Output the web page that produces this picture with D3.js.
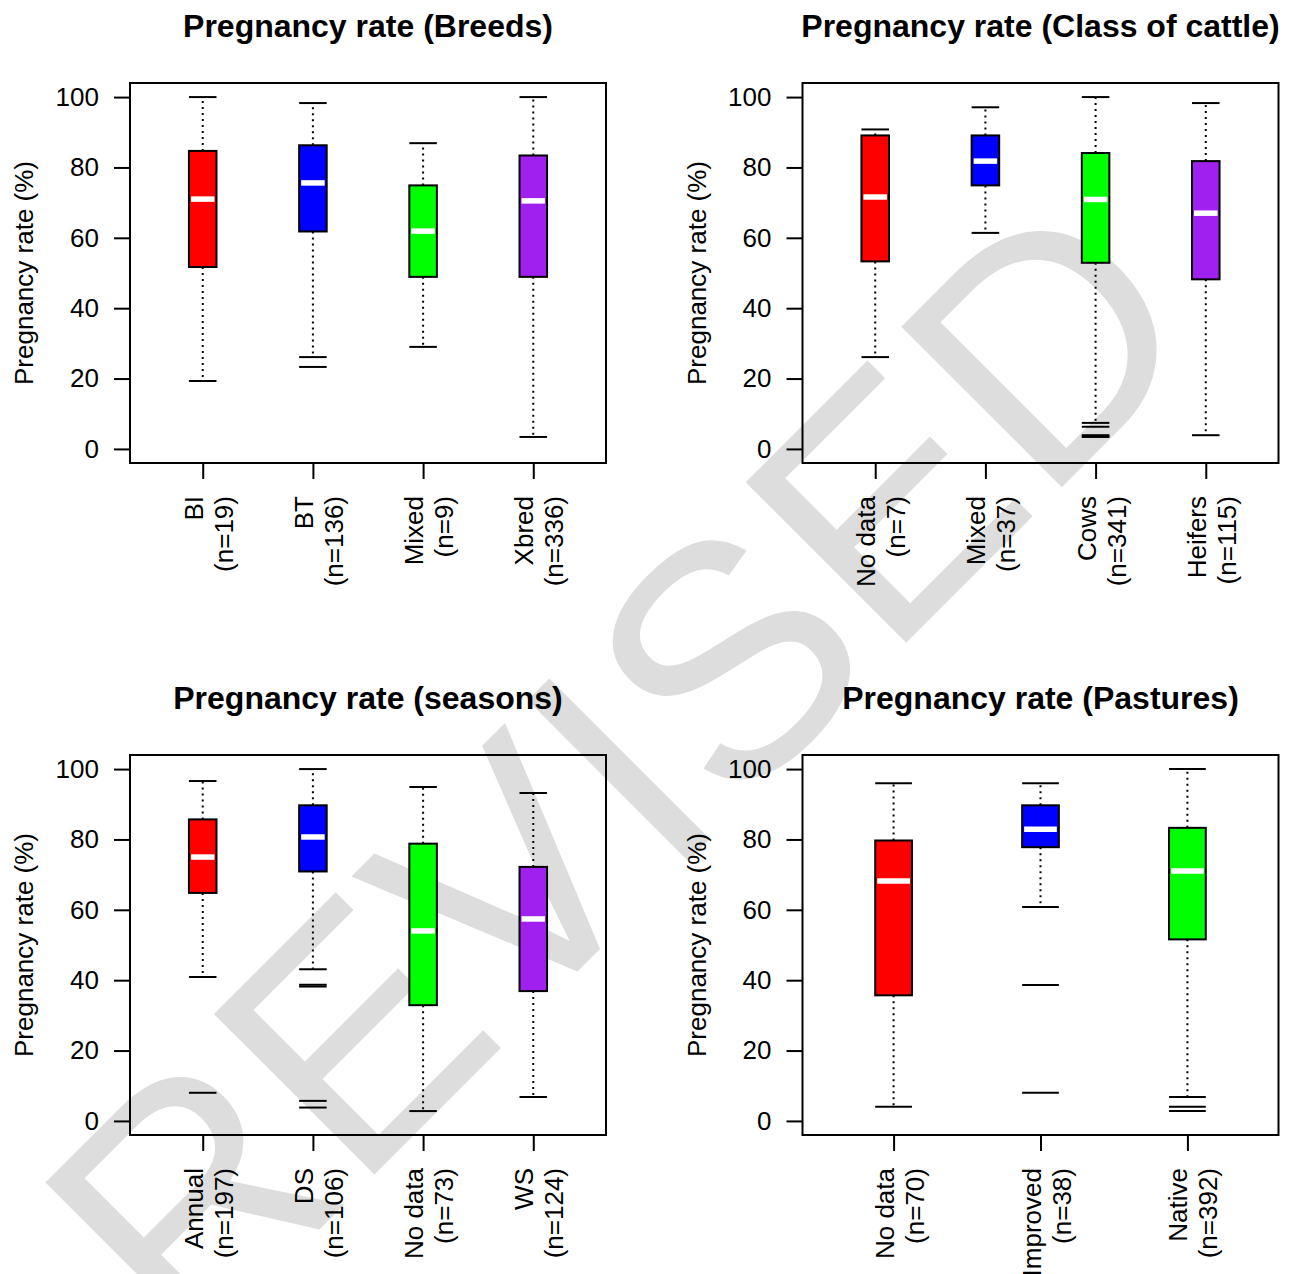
<!DOCTYPE html>
<html>
<head>
<meta charset="utf-8">
<script src="https://cdn.jsdelivr.net/npm/d3@7"></script>
<style>
  body { margin: 0; background: #fff; }
  svg { display: block; font-family: "Liberation Sans", Arial, Helvetica, sans-serif; }
</style>
</head>
<body>
<script>
// five-number summaries: [low whisker, Q1, median, Q3, high whisker]
const breedLabels = ["BI", "BT", "Mixed", "Xbred"]
const breedN = [19, 136, 9, 336]
const breedStats = [
    [19.3, 51.7, 71.0, 84.7, 100],
    [26.1, 61.8, 75.6, 86.3, 98.3],
    [29.0, 48.9, 61.9, 74.9, 86.9],
    [3.4, 48.9, 70.5, 83.4, 100]
]
const breedOut = [[], [23.3], [], []]

const classLabels = ["No data", "Mixed", "Cows", "Heifers"]
const classN = [7, 37, 341, 115]
const classStats = [
    [26.1, 53.3, 71.6, 89.1, 90.8],
    [61.4, 74.9, 81.8, 89.1, 97.1],
    [7.4, 52.9, 70.9, 84.1, 100],
    [3.9, 48.2, 67.0, 81.8, 98.3]
]
const classOut = [[], [], [6.3, 3.9, 3.6, 3.4], []]

const seasonLabels = ["Annual", "DS", "No data", "WS"]
const seasonN = [197, 106, 73, 124]
const seasonStats = [
    [40.9, 64.8, 75.0, 85.7, 96.6],
    [43.1, 70.9, 80.7, 89.7, 100],
    [2.8, 32.9, 54.0, 78.8, 94.9],
    [6.8, 36.9, 57.4, 72.2, 93.2]
]
const seasonOut = [[8.0], [38.7, 38.2, 5.7, 3.8], [], []]

const pastureLabels = ["No data", "Improved", "Native"]
const pastureN = [70, 38, 392]
const pastureStats = [
    [4.0, 35.7, 68.2, 79.7, 96.0],
    [60.8, 77.8, 82.9, 89.7, 96.0],
    [6.8, 51.6, 71.0, 83.3, 100]
]
const pastureOut = [[], [38.6, 8.0], [4.0, 2.8]]

const yTicks = [0, 20, 40, 60, 80, 100]
const boxColors = ["#FF0000", "#0000FF", "#00FF00", "#A020F0"]

const panels = [
    { title: "Pregnancy rate (Breeds)", labels: breedLabels, n: breedN, stats: breedStats, out: breedOut, left: 130, top: 83 },
    { title: "Pregnancy rate (Class of cattle)", labels: classLabels, n: classN, stats: classStats, out: classOut, left: 802.5, top: 83 },
    { title: "Pregnancy rate (seasons)", labels: seasonLabels, n: seasonN, stats: seasonStats, out: seasonOut, left: 130, top: 755 },
    { title: "Pregnancy rate (Pastures)", labels: pastureLabels, n: pastureN, stats: pastureStats, out: pastureOut, left: 802.5, top: 755 }
]

const W = 476, H = 380

const svg = d3.select("body").append("svg")
    .attr("width", 1289)
    .attr("height", 1274)

// watermark behind everything
svg.append("text")
    .attr("transform", "translate(699,850) rotate(-45)")
    .attr("text-anchor", "middle")
    .attr("fill", "#dddddd")
    .style("font-size", "330px")
    .text("REVISED")

const y = d3.scaleLinear().domain([-4, 104]).range([H, 0])

panels.forEach(p => {
    const k = p.labels.length
    const x = d3.scaleLinear()
        .domain([0.5 - 0.04 * k, k + 0.5 + 0.04 * k])
        .range([0, W])
    const hw = (x(1.25) - x(1)) / 2

    const g = svg.append("g")
        .attr("transform", "translate(" + p.left + "," + p.top + ")")

    g.append("text")
        .attr("x", W / 2)
        .attr("y", -46)
        .attr("text-anchor", "middle")
        .style("font-size", "32px")
        .style("font-weight", "bold")
        .text(p.title)

    const yAxis = g.append("g")
        .call(d3.axisLeft(y).tickValues(yTicks).tickSize(16).tickPadding(15))
    yAxis.select(".domain").remove()
    yAxis.selectAll("line").attr("stroke-width", 2)
    yAxis.selectAll("text")
        .attr("fill", "#000")
        .style("font-size", "26px")
        .style("font-family", "Liberation Sans, Arial, sans-serif")

    const xAxis = g.append("g")
        .attr("transform", "translate(0," + H + ")")
        .call(d3.axisBottom(x).tickValues(d3.range(1, k + 1)).tickSize(16).tickFormat(""))
    xAxis.select(".domain").remove()
    xAxis.selectAll("line").attr("stroke-width", 2)

    g.append("text")
        .attr("transform", "translate(-97," + H / 2 + ") rotate(-90)")
        .attr("text-anchor", "middle")
        .style("font-size", "26px")
        .text("Pregnancy rate (%)")

    const groups = g.selectAll("g.box")
        .data(p.stats)
        .enter()
        .append("g")
        .attr("class", "box")
        .attr("transform", (d, i) => "translate(" + x(i + 1) + ",0)")

    // whiskers
    groups.append("line")
        .attr("y1", d => y(d[3])).attr("y2", d => y(d[4]))
        .attr("stroke", "#000").attr("stroke-width", 2).attr("stroke-dasharray", "2,4")
    groups.append("line")
        .attr("y1", d => y(d[1])).attr("y2", d => y(d[0]))
        .attr("stroke", "#000").attr("stroke-width", 2).attr("stroke-dasharray", "2,4")

    // staples
    groups.append("line")
        .attr("x1", -hw).attr("x2", hw)
        .attr("y1", d => y(d[4])).attr("y2", d => y(d[4]))
        .attr("stroke", "#000").attr("stroke-width", 2)
    groups.append("line")
        .attr("x1", -hw).attr("x2", hw)
        .attr("y1", d => y(d[0])).attr("y2", d => y(d[0]))
        .attr("stroke", "#000").attr("stroke-width", 2)

    groups.append("rect")
        .attr("x", -hw)
        .attr("width", hw * 2)
        .attr("y", d => y(d[3]))
        .attr("height", d => y(d[1]) - y(d[3]))
        .attr("fill", (d, i) => boxColors[i])
        .attr("stroke", "#000")
        .attr("stroke-width", 2)

    groups.append("line")
        .attr("x1", -hw + 2).attr("x2", hw - 2)
        .attr("y1", d => y(d[2])).attr("y2", d => y(d[2]))
        .attr("stroke", "#fff").attr("stroke-width", 5.5)

    // outliers drawn as segments
    groups.each(function (d, i) {
        d3.select(this).selectAll("line.out")
            .data(p.out[i])
            .enter()
            .append("line")
            .attr("class", "out")
            .attr("x1", -hw).attr("x2", hw)
            .attr("y1", v => y(v)).attr("y2", v => y(v))
            .attr("stroke", "#000").attr("stroke-width", 2)
    })

    // two-line rotated category labels
    groups.append("text")
        .attr("transform", "translate(0," + (H + 33) + ") rotate(-90)")
        .attr("text-anchor", "end")
        .style("font-size", "26px")
        .text((d, i) => p.labels[i])
    groups.append("text")
        .attr("transform", "translate(30," + (H + 33) + ") rotate(-90)")
        .attr("text-anchor", "end")
        .style("font-size", "26px")
        .text((d, i) => "(n=" + p.n[i] + ")")

    g.append("rect")
        .attr("width", W)
        .attr("height", H)
        .attr("fill", "none")
        .attr("stroke", "#000")
        .attr("stroke-width", 2)
})
</script>
</body>
</html>
